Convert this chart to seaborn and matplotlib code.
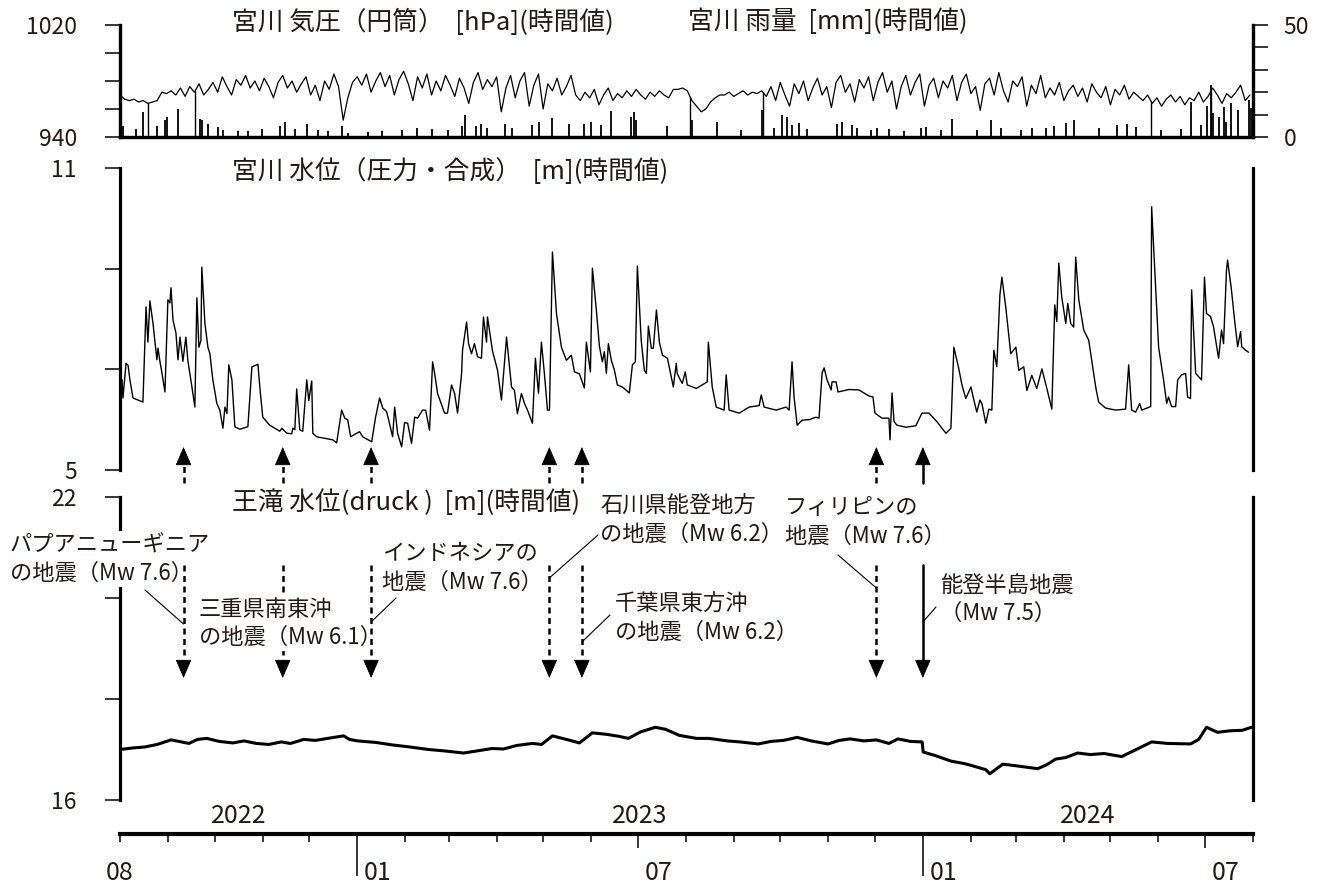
import numpy as np
import pandas as pd
import matplotlib
matplotlib.use("Agg")
import matplotlib.pyplot as plt
import matplotlib.dates as mdates
import seaborn as sns

START = pd.Timestamp("2022-08-01")
END = pd.Timestamp("2024-08-01")

# 宮川 気圧 [hPa] 3日ごとの読み取り値 (2022-08-01 から)
press_hpa = [
    970, 967, 966, 967, 965, 966, 964, 965, 966, 972,
    971, 973, 970, 975, 969, 976, 972, 978, 970, 974,
    979, 972, 983, 976, 970, 981, 977, 984, 975, 980,
    973, 982, 976, 968, 979, 984, 975, 980, 972, 978,
    983, 970, 977, 966, 980, 974, 985, 976, 952, 968,
    979, 983, 977, 985, 972, 980, 986, 976, 984, 970,
    981, 987, 978, 966, 983, 975, 985, 970, 980, 973,
    984, 977, 969, 982, 975, 964, 979, 986, 974, 981,
    976, 983, 958, 975, 984, 968, 980, 986, 962, 977,
    985, 960, 978, 973, 982, 970, 976, 984, 970, 966,
    972, 968, 974, 963, 970, 975, 966, 971, 968, 973,
    969, 974, 970, 967, 972, 969, 973, 970, 968, 974,
    974, 975, 973, 966, 962, 958, 960, 965, 968, 970,
    970, 972, 969, 971, 973, 970, 972, 971, 973, 969,
    976, 966, 979, 970, 962, 978, 971, 980, 966, 975,
    982, 970, 976, 961, 979, 984, 972, 978, 965, 981,
    975, 983, 966, 979, 986, 972, 980, 960, 976, 984,
    970, 979, 985, 962, 977, 982, 968, 980, 975, 984,
    966, 979, 985, 971, 976, 959, 978, 982, 970, 986,
    973, 965, 980, 976, 983, 962, 977, 971, 984, 968,
    975, 970, 979, 966, 973, 977, 969, 975, 965, 978,
    972, 968, 976, 963, 974, 970, 977, 967, 972, 969,
    966, 970, 964, 968, 962, 967, 970, 965, 969, 963,
    968, 966, 972, 965, 969, 975, 970, 964, 971, 968,
    972, 977, 966, 970,
]
# 気圧の欠測 (0落ち) 日 [START からの日数]
press_gap_day = [18.0, 48.3, 367.9, 414.9, 665.0, 703.6]

# 宮川 雨量 [mm]
rain_day = [
    1.9, 10.3, 14.8, 23.8, 29.0, 30.3, 37.4, 51.5, 52.8, 56.7,
    63.1, 66.4, 76.0, 82.5, 91.5, 103.1, 106.3, 112.8, 120.5, 127.6,
    134.0, 143.0, 146.9, 159.8, 168.8, 181.7, 191.4, 201.0, 211.3, 220.4,
    222.3, 230.0, 233.2, 237.1, 248.1, 253.2, 266.1, 270.6, 278.4, 289.9,
    299.6, 304.1, 310.6, 317.0, 329.9, 331.8, 333.1, 353.1, 369.2, 385.3,
    400.8, 414.3, 422.0, 427.2, 430.4, 433.6, 438.1, 443.3, 462.6, 465.9,
    472.3, 475.5, 484.5, 488.4, 496.1, 505.8, 516.8, 520.0, 529.6, 536.7,
    552.8, 561.9, 568.3, 581.2, 588.3, 597.3, 602.4, 610.2, 615.3, 631.4,
    643.0, 649.5, 655.3, 671.4, 684.3, 690.7, 697.2, 701.0, 703.6, 705.5,
    708.8, 712.0, 713.9, 717.1, 721.6, 728.1, 729.4,
]
rain_mm = [
    4.8, 3.7, 11, 5, 7.5, 9, 12.7, 8, 7.5, 6,
    4.5, 3, 2.7, 2.7, 3.7, 4.8, 6.7, 3.7, 6, 3,
    2.7, 4.8, 2, 2.2, 2.7, 3.3, 4.2, 3.7, 3.3, 4.8,
    9.7, 4.8, 5.7, 4.2, 5.7, 4.2, 5.2, 6.7, 8.7, 5.7,
    6, 6.7, 5.2, 11.6, 9, 11, 7.5, 4.8, 7.5, 6.7,
    3.3, 12, 4.2, 9.7, 9, 5.2, 6.3, 3.7, 5.7, 6.7,
    5.2, 4.2, 3, 4.2, 3.7, 2.7, 4.2, 4.5, 3.3, 8.2,
    3, 7.5, 4.2, 3.3, 4.2, 4.2, 4.8, 6.3, 7.5, 4.2,
    5.2, 5.7, 4.5, 3, 3.7, 15.7, 5.2, 14, 23, 10.5,
    9, 13.4, 6.7, 15, 12, 16.4, 13,
]

# 宮川 水位 [m] (日数, 値)
lvl_pts = [
    (0.0, 6.85), (1.3, 6.79), (1.9, 6.43), (3.9, 7.12), (5.2, 7.08), (6.4, 6.79), (8.4, 6.43), (14.8, 6.35),
    (16.8, 8.24), (18.0, 7.54), (19.3, 8.36), (21.3, 7.91), (23.8, 7.19), (24.5, 7.42), (25.8, 7.15), (27.1, 6.92),
    (29.0, 6.55), (30.9, 8.38), (32.2, 8.32), (32.9, 8.62), (34.2, 7.98), (36.1, 7.72), (37.4, 7.19), (38.7, 7.64),
    (40.6, 7.16), (42.5, 7.64), (43.8, 7.17), (46.4, 6.65), (48.3, 6.25), (49.6, 8.42), (50.9, 7.44), (52.2, 7.57),
    (52.8, 9.03), (54.8, 7.91), (56.7, 7.44), (58.0, 7.31), (59.9, 6.79), (62.5, 6.32), (64.4, 6.19), (66.4, 5.83),
    (67.7, 6.25), (69.0, 6.12), (70.2, 7.09), (72.2, 6.79), (74.1, 5.86), (77.3, 5.81), (82.5, 5.86), (85.1, 7.05),
    (89.0, 7.10), (90.2, 6.65), (92.1, 6.05), (96.6, 5.89), (103.1, 5.77), (104.4, 5.83), (107.6, 5.73), (110.8, 5.72),
    (111.5, 5.83), (112.8, 5.80), (114.0, 6.61), (116.0, 5.80), (117.9, 5.77), (120.5, 6.79), (121.8, 6.38), (123.7, 6.77),
    (124.4, 5.73), (126.9, 5.66), (137.2, 5.60), (139.8, 5.54), (143.0, 6.19), (145.0, 6.03), (146.9, 6.00), (148.8, 5.66),
    (152.7, 5.73), (154.6, 5.76), (156.6, 5.66), (162.4, 5.56), (164.9, 6.05), (167.5, 6.43), (169.5, 6.23), (172.0, 6.16),
    (173.3, 6.00), (175.9, 5.66), (177.2, 6.25), (179.1, 5.73), (181.7, 5.46), (183.6, 5.94), (185.6, 5.93), (188.1, 5.53),
    (190.1, 6.05), (192.0, 6.03), (195.2, 6.19), (197.2, 6.19), (199.7, 5.79), (201.7, 7.15), (203.0, 6.92), (204.9, 6.52),
    (209.4, 6.13), (211.3, 6.13), (213.9, 6.69), (215.9, 6.52), (217.8, 6.13), (220.4, 6.92), (221.0, 7.38), (223.6, 7.94),
    (224.9, 7.51), (226.8, 7.31), (228.7, 7.51), (230.7, 7.25), (233.2, 7.22), (234.5, 8.04), (236.5, 7.54), (237.1, 8.04),
    (240.3, 7.37), (243.6, 6.98), (246.1, 6.39), (249.4, 7.64), (252.6, 6.65), (254.5, 6.58), (256.4, 6.12), (259.0, 6.52),
    (261.0, 6.32), (262.9, 6.19), (266.1, 5.93), (268.0, 7.22), (270.0, 6.52), (271.9, 7.54), (273.8, 6.92), (275.8, 6.19),
    (277.1, 6.19), (279.0, 9.33), (281.6, 8.11), (284.8, 7.44), (288.0, 7.18), (291.2, 7.28), (293.2, 6.95), (296.4, 6.91),
    (299.6, 6.63), (300.9, 7.54), (303.5, 6.95), (304.8, 9.01), (307.3, 8.19), (309.3, 7.46), (311.2, 7.15), (312.5, 7.35),
    (313.8, 6.92), (315.1, 7.51), (317.0, 7.18), (319.0, 6.98), (320.9, 6.69), (324.1, 6.65), (328.6, 6.53), (330.6, 7.09),
    (332.5, 7.15), (333.8, 9.05), (336.3, 7.57), (338.3, 6.98), (339.6, 6.92), (340.9, 7.86), (342.8, 7.42), (344.1, 7.42),
    (346.1, 8.18), (348.0, 7.54), (350.0, 7.28), (353.2, 7.22), (355.7, 6.85), (357.0, 6.65), (358.9, 7.12), (359.5, 6.92),
    (361.5, 6.79), (362.8, 6.72), (364.7, 6.95), (366.0, 6.69), (371.8, 6.62), (378.9, 6.75), (379.6, 7.54), (382.1, 6.65),
    (384.7, 6.25), (389.8, 6.19), (391.1, 6.89), (393.0, 6.19), (399.5, 6.13), (405.9, 6.25), (412.4, 6.28), (413.7, 6.49),
    (415.6, 6.25), (423.3, 6.19), (429.8, 6.25), (431.7, 6.19), (433.6, 7.15), (434.9, 6.45), (436.9, 5.89), (440.1, 5.99),
    (444.6, 6.00), (449.1, 6.05), (451.0, 6.03), (453.0, 6.93), (454.3, 7.03), (456.2, 6.79), (458.8, 6.59), (459.4, 6.75),
    (462.0, 6.75), (463.3, 6.55), (470.4, 6.60), (476.8, 6.59), (483.2, 6.47), (485.8, 6.45), (487.1, 6.13), (491.6, 6.03),
    (496.1, 6.03), (496.8, 5.60), (497.4, 6.03), (498.1, 6.53), (499.4, 5.96), (501.3, 5.89), (507.1, 5.85), (513.5, 5.88),
    (517.4, 6.13), (521.9, 6.13), (527.1, 5.96), (530.3, 5.83), (532.9, 5.73), (536.1, 5.83), (538.0, 7.44), (541.2, 7.01),
    (543.2, 6.69), (545.7, 6.42), (549.0, 6.65), (550.9, 6.39), (552.8, 6.15), (554.8, 6.39), (556.1, 6.32), (558.6, 5.93),
    (560.6, 6.21), (562.5, 6.19), (563.8, 7.38), (565.7, 7.05), (567.7, 8.48), (569.0, 8.83), (571.5, 8.23), (574.7, 7.31),
    (578.0, 7.44), (579.9, 6.98), (583.1, 7.05), (585.1, 6.58), (588.3, 6.88), (591.5, 6.62), (594.8, 7.01), (598.0, 6.62),
    (601.2, 6.21), (603.1, 8.28), (604.4, 7.95), (605.7, 9.11), (607.6, 8.44), (610.2, 7.91), (611.5, 8.31), (613.4, 7.91),
    (615.3, 7.84), (616.6, 9.23), (618.6, 8.38), (621.8, 7.78), (625.0, 7.58), (629.5, 6.65), (631.4, 6.35), (635.9, 6.23),
    (642.4, 6.19), (648.8, 6.21), (650.8, 7.09), (652.7, 6.19), (655.3, 6.15), (657.9, 6.32), (659.2, 6.19), (665.0, 6.26),
    (665.6, 10.23), (670.1, 7.44), (673.3, 6.79), (675.3, 6.32), (676.5, 6.45), (678.5, 6.26), (681.1, 6.26), (682.4, 6.79),
    (684.9, 6.89), (687.5, 6.92), (688.8, 6.45), (690.7, 6.42), (691.4, 8.58), (694.0, 6.92), (697.8, 6.79), (699.7, 8.83),
    (701.0, 8.11), (703.6, 8.05), (705.5, 7.85), (708.8, 7.22), (710.7, 7.78), (712.0, 7.51), (713.9, 8.97), (714.6, 9.17),
    (717.1, 8.58), (719.1, 7.98), (721.1, 7.45), (723.0, 7.75), (723.7, 7.45), (726.2, 7.38), (728.1, 7.34),
]

# 王滝 水位 [m] (日数, 値)
otaki_pts = [
    (0, 17.00), (8, 17.03), (16, 17.05), (24, 17.10), (32.9, 17.19), (38, 17.16), (44.5, 17.12), (50, 17.20),
    (56.1, 17.22), (64, 17.16), (72.8, 17.13), (80, 17.17), (88, 17.12), (96, 17.10), (104, 17.15), (110, 17.12),
    (118.6, 17.20), (126, 17.18), (134, 17.22), (144.3, 17.27), (148, 17.20), (153.4, 17.17), (165, 17.14),
    (175.9, 17.09), (187, 17.05), (199.1, 17.00), (210, 16.97), (221.6, 16.93), (230, 16.97), (240, 17.02),
    (247.4, 17.01), (256, 17.08), (266, 17.12), (272, 17.10), (279, 17.27), (288, 17.20), (296.4, 17.13),
    (304.8, 17.33), (314, 17.30), (322, 17.26), (328, 17.22), (336, 17.35), (345.4, 17.44), (352, 17.40),
    (360.8, 17.28), (372, 17.22), (380, 17.22), (391.8, 17.17), (400, 17.15), (411.7, 17.11), (420, 17.16),
    (428, 17.18), (436.9, 17.24), (446, 17.17), (456.8, 17.11), (464, 17.18), (471, 17.21), (480, 17.17),
    (488, 17.19), (496.1, 17.12), (501.9, 17.21), (510, 17.16), (517.5, 17.15), (518.2, 16.95), (526, 16.88),
    (536.1, 16.77), (545, 16.72), (552, 16.66), (558.6, 16.60), (561.2, 16.52), (569.6, 16.71), (580, 16.67),
    (592.1, 16.62), (598, 16.70), (603.7, 16.81), (610, 16.84), (617.9, 16.93), (626, 16.90), (635, 16.92),
    (646.3, 16.86), (655, 16.99), (665.6, 17.15), (676, 17.12), (690.7, 17.11), (696, 17.20), (701, 17.44),
    (708.1, 17.34), (716, 17.37), (724, 17.38), (730, 17.44),
]

quake_date = ["2022-09-11", "2022-11-14", "2023-01-10", "2023-05-05",
              "2023-05-26", "2023-12-02", "2024-01-01"]
quake_text = [
    "パプアニューギニア\nの地震（Mw 7.6）",
    "三重県南東沖\nの地震（Mw 6.1）",
    "インドネシアの\n地震（Mw 7.6）",
    "石川県能登地方\nの地震（Mw 6.2）",
    "千葉県東方沖\nの地震（Mw 6.2）",
    "フィリピンの\n地震（Mw 7.6）",
    "能登半島地震\n（Mw 7.5）",
]
quake_solid = [False, False, False, False, False, False, True]

month_label_date = ["2022-08-01", "2023-01-01", "2023-07-01", "2024-01-01", "2024-07-01"]
month_label_text = ["08", "01", "07", "01", "07"]
years = [2022, 2023, 2024]

# ---------------------------------------------------------------
sns.set_theme(style="white")
plt.rcParams["font.family"] = ["Noto Sans CJK JP", "DejaVu Sans"]
TXT = "#231815"

W, H = 1329, 888


def to_date(days):
    return START + pd.to_timedelta(np.asarray(days, dtype=float), unit="D")


def box(x0, y0, x1, y1):
    return [x0 / W, 1 - y1 / H, (x1 - x0) / W, (y1 - y0) / H]


def ax_frac(ax_top, ax_bot, y):
    return (ax_bot - y) / (ax_bot - ax_top)


def dnum(d):
    return mdates.date2num(pd.Timestamp(d))


press_days = np.arange(len(press_hpa)) * 3.0
press_dates = to_date(press_days)
lvl_day = [p[0] for p in lvl_pts]
lvl_m = [p[1] for p in lvl_pts]
ot_day = [p[0] for p in otaki_pts]
ot_m = [p[1] for p in otaki_pts]

fig = plt.figure(figsize=(13.29, 8.88), dpi=100)
ax1 = fig.add_axes(box(120, 25, 1253, 137))
ax2 = fig.add_axes(box(120, 168, 1253, 470))
ax3 = fig.add_axes(box(120, 497, 1253, 800))
axt = fig.add_axes(box(120, 833, 1253, 834))

for ax in (ax1, ax2, ax3, axt):
    ax.set_facecolor("none")
    for s in ax.spines.values():
        s.set_color("black")
        s.set_linewidth(2.3)
    ax.spines["top"].set_visible(False)
    ax.grid(False)

# --- 気圧・雨量 ---
ax1r = ax1.twinx()
ax1r.set_facecolor("none")
sns.lineplot(x=press_dates, y=press_hpa, ax=ax1, color="black", lw=0.9,
             estimator=None, sort=False)
gap_top = np.interp(press_gap_day, press_days, press_hpa)
ax1.vlines(to_date(press_gap_day), 940, gap_top, color="black", lw=1.0)
ax1r.vlines(to_date(rain_day), 0, rain_mm, color="black", lw=1.3)
ax1.set_ylim(940, 1020)
ax1.set_yticks([940, 960, 980, 1000, 1020])
ax1.set_yticklabels(["940", "", "", "", "1020"])
ax1r.set_ylim(0, 50)
ax1r.set_yticks([0, 10, 20, 30, 40, 50])
ax1r.set_yticklabels(["0", "", "", "", "", "50"])
ax1r.tick_params(axis="y", direction="out", length=11, width=1.1, color="black",
                 labelsize=16.5, labelcolor=TXT, pad=11, right=True)
for s in ax1r.spines.values():
    s.set_color("black")
    s.set_linewidth(2.3)
ax1r.spines["top"].set_visible(False)
ax1r.grid(False)

# --- 宮川 水位 ---
sns.lineplot(x=to_date(lvl_day), y=lvl_m, ax=ax2, color="black", lw=1.0,
             estimator=None, sort=False)
ax2.set_ylim(5, 11)
ax2.set_yticks([5, 7, 9, 11])
ax2.set_yticklabels(["5", "", "", "11"])
ax2.spines["bottom"].set_visible(False)

# --- 王滝 水位 ---
sns.lineplot(x=to_date(ot_day), y=ot_m, ax=ax3, color="black", lw=2.2,
             estimator=None, sort=False)
ax3.set_ylim(16, 22)
ax3.set_yticks([16, 18, 20, 22])
ax3.set_yticklabels(["16", "", "", "22"])
ax3.spines["bottom"].set_visible(False)

for ax in (ax1, ax2, ax3, axt, ax1r):
    ax.set_xlim(START, END)
    ax.set_xlabel("")
    ax.set_ylabel("")
    ax.tick_params(axis="x", bottom=False, labelbottom=False)
for ax in (ax1, ax2, ax3):
    ax.tick_params(axis="y", direction="out", length=11, width=1.1, color="black",
                   labelsize=16.5, labelcolor=TXT, pad=20, left=True)

# --- パネルタイトル ---
tkw = dict(fontsize=18.5, color=TXT, va="center")
fig.text(232 / W, 1 - 22 / H, "宮川 気圧（円筒）  [hPa](時間値)", **tkw)
fig.text(688 / W, 1 - 22 / H, "宮川 雨量  [mm](時間値)", **tkw)
fig.text(232 / W, 1 - 172 / H, "宮川 水位（圧力・合成）  [m](時間値)", **tkw)
fig.text(232 / W, 1 - 503 / H, "王滝 水位(druck )  [m](時間値)", **tkw)

# --- 地震の矢印 ---
dash = (0, (2.4, 1.8))
tr2 = ax2.get_xaxis_transform()
tr3 = ax3.get_xaxis_transform()
head = dict(arrowstyle="-|>,head_length=0.6,head_width=0.26", color="black", lw=0.6,
            mutation_scale=20, shrinkA=0, shrinkB=0)
for i, (d, solid) in enumerate(zip(quake_date, quake_solid)):
    x = dnum(d)
    ls = "-" if solid else dash
    # 三重の矢印だけは注記の下に隠れる
    z = 2 if i == 1 else 4
    # 上向き (宮川)
    y_tip, y_tail = ax_frac(168, 470, 447), ax_frac(168, 470, 483)
    ax2.plot([x, x], [y_tail, y_tip - 0.03], transform=tr2, color="black", lw=1.8,
             ls=ls, clip_on=False)
    ax2.annotate("", xy=(x, y_tip), xycoords=tr2, xytext=(0, -12), textcoords="offset points",
                 arrowprops=head, annotation_clip=False)
    # 下向き (王滝)
    y_top, y_tip = ax_frac(497, 800, 565), ax_frac(497, 800, 678)
    ax3.plot([x, x], [y_top, y_tip + 0.03], transform=tr3, color="black", lw=1.8,
             ls=ls, clip_on=False, zorder=z)
    ax3.annotate("", xy=(x, y_tip), xycoords=tr3, xytext=(0, 12), textcoords="offset points",
                 arrowprops=head, annotation_clip=False, zorder=z)

# 注記 (左端 x, ブロック中心 y) と引き出し線 (文字側の点, 矢印側の y)
label_pos = [(10, 559), (199, 623), (382, 568), (600, 520), (615, 618), (785, 522), (940, 599)]
leader = [((145, 590), 624), None, ((396, 598), 622), ((598, 535), 578),
          ((610, 615), 642), ((838, 555), 588), ((936, 607), 622)]
for d, txt, (lx, ly), ld in zip(quake_date, quake_text, label_pos, leader):
    ax3.text(lx / W, 1 - ly / H, txt, transform=fig.transFigure, fontsize=16, color=TXT,
             ha="left", va="center", linespacing=1.28, zorder=3, clip_on=False,
             bbox=dict(boxstyle="square,pad=0.1", fc="white", ec="none"))
    if ld is not None:
        (sx, sy), ey = ld
        ax3.annotate("", xy=(dnum(d), ax_frac(497, 800, ey)), xycoords=tr3,
                     xytext=(sx / W, 1 - sy / H), textcoords="figure fraction",
                     arrowprops=dict(arrowstyle="-", color="black", lw=0.8, shrinkA=0, shrinkB=0),
                     annotation_clip=False, zorder=4)

# --- 時間軸 ---
for s in ("left", "right", "top"):
    axt.spines[s].set_visible(False)
axt.spines["bottom"].set_linewidth(3.0)
axt.set_yticks([])
months = pd.date_range(START, END, freq="MS")
axt.set_xticks(months)
axt.tick_params(axis="x", bottom=True, labelbottom=False, direction="out", length=6,
                width=1.1, color="black")
for m, tk in zip(months, axt.xaxis.get_major_ticks()):
    if m.month == 1:
        tk.tick1line.set_markersize(30)
    elif m.month == 7:
        tk.tick1line.set_markersize(10)
trt = axt.get_xaxis_transform()
for d, t in zip(month_label_date, month_label_text):
    off, ha = ((0, -28), "center") if t == "08" else ((5, -28), "left")
    axt.annotate(t, xy=(dnum(d), 0), xycoords=trt, xytext=off, textcoords="offset points",
                 ha=ha, va="center", fontsize=18, color=TXT, annotation_clip=False)
for yr in years:
    a = max(pd.Timestamp(f"{yr}-01-01"), START)
    b = min(pd.Timestamp(f"{yr + 1}-01-01"), END)
    mid = a + (b - a) / 2
    axt.annotate(str(yr), xy=(dnum(mid), 0), xycoords=trt, xytext=(0, 13), textcoords="offset points",
                 ha="center", va="center", fontsize=18, color=TXT, annotation_clip=False)

fig.savefig("out.png", dpi=100)
